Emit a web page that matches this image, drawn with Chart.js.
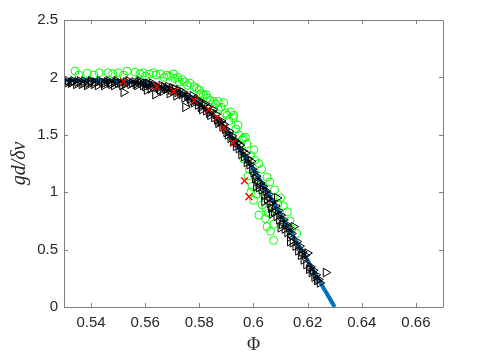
<!DOCTYPE html>
<html>
<head>
<meta charset="utf-8">
<script src="https://cdn.jsdelivr.net/npm/chart.js@4"></script>
<style>
  html, body { margin: 0; padding: 0; background: #fff; }
  #wrap { width: 479px; height: 360px; }
</style>
</head>
<body>
<div id="wrap"><canvas id="plot" width="479" height="360"></canvas></div>
<script>
// fitted curve
var phiLine = [0.530, 0.540, 0.550, 0.555, 0.560, 0.565, 0.570, 0.575, 0.580, 0.585, 0.590, 0.595, 0.600, 0.605, 0.610, 0.615, 0.620, 0.625, 0.630];
var gLine = [1.975, 1.975, 1.968, 1.958, 1.943, 1.92, 1.885, 1.835, 1.77, 1.675, 1.54, 1.375, 1.20, 1.005, 0.805, 0.605, 0.405, 0.20, 0.00];

// green circles
var phiCirc = [0.5341, 0.5386, 0.5430, 0.5463, 0.5500, 0.5533, 0.5563, 0.5593, 0.5615, 0.5630, 0.5656, 0.5680, 0.5704, 0.5720, 0.5737, 0.5745, 0.5756, 0.5780, 0.5790, 0.5804,
  0.5815, 0.5830, 0.5852, 0.5870, 0.5870, 0.5890, 0.5896, 0.5902, 0.5915, 0.5926, 0.5926, 0.5943, 0.5946, 0.5958, 0.5963, 0.5970, 0.6001, 0.5964, 0.6020, 0.5985,
  0.5995, 0.6000, 0.5990, 0.6010, 0.6032, 0.6040, 0.6044, 0.6055, 0.6060, 0.6063, 0.6074, 0.6074, 0.6090, 0.6125, 0.6140,
  0.5355, 0.5410, 0.5480, 0.5520, 0.5580, 0.5600, 0.5640, 0.5670, 0.5690, 0.5710, 0.5725, 0.5765, 0.5800, 0.5825, 0.5840, 0.5860, 0.5880, 0.5910, 0.5935, 0.5975,
  0.5990, 0.6005, 0.6030, 0.6050, 0.6078, 0.6100, 0.6110, 0.6135, 0.6160, 0.6020, 0.6050, 0.6010, 0.5980, 0.6045];
var gCirc = [2.055, 2.035, 2.040, 2.040, 2.040, 2.055, 2.045, 2.040, 2.030, 2.040, 2.030, 2.020, 2.030, 2.000, 1.980, 1.960, 1.930, 1.920, 1.905, 1.860,
  1.850, 1.820, 1.790, 1.790, 1.720, 1.780, 1.690, 1.670, 1.700, 1.650, 1.670, 1.585, 1.500, 1.455, 1.470, 1.480, 1.370, 1.290, 1.250, 1.200,
  1.050, 0.930, 1.000, 1.120, 0.890, 0.980, 0.770, 0.820, 1.090, 0.660, 0.580, 0.720, 0.900, 0.830, 0.680,
  2.020, 2.020, 2.030, 2.020, 2.030, 2.010, 2.020, 2.000, 2.010, 1.990, 1.960, 1.950, 1.890, 1.850, 1.800, 1.770, 1.740, 1.620, 1.550, 1.420,
  1.320, 1.280, 1.200, 1.130, 1.020, 0.950, 0.880, 0.750, 0.640, 0.800, 0.700, 0.980, 1.140, 0.860];

// black triangles
var phiTri = [0.5305, 0.5315, 0.5325, 0.5335, 0.5350, 0.5365, 0.5375, 0.5390, 0.5400, 0.5415, 0.5425, 0.5440, 0.5450, 0.5465, 0.5475, 0.5490, 0.5500, 0.5515, 0.5520, 0.5530,
  0.5545, 0.5560, 0.5570, 0.5580, 0.5585, 0.5600, 0.5606, 0.5610, 0.5620, 0.5630, 0.5637, 0.5650, 0.5665, 0.5670, 0.5680, 0.5690, 0.5700, 0.5705, 0.5715, 0.5730,
  0.5745, 0.5748, 0.5760, 0.5770, 0.5785, 0.5790, 0.5795, 0.5805, 0.5815, 0.5820, 0.5825, 0.5835, 0.5845, 0.5850, 0.5855, 0.5865, 0.5875, 0.5880, 0.5885, 0.5895,
  0.5905, 0.5910, 0.5915, 0.5925, 0.5935, 0.5940, 0.5945, 0.5955, 0.5960, 0.5965, 0.5975, 0.5980, 0.5985, 0.5995, 0.6000, 0.6005, 0.6015, 0.6020, 0.6025, 0.6030,
  0.6040, 0.6045, 0.6050, 0.6060, 0.6065, 0.6070, 0.6075, 0.6085, 0.6087, 0.6090, 0.6095, 0.6105, 0.6110, 0.6115, 0.6125, 0.6130, 0.6135, 0.6145, 0.6148, 0.6155,
  0.6160, 0.6165, 0.6175, 0.6180, 0.6185, 0.6195, 0.6199, 0.6205, 0.6210, 0.6215, 0.6225, 0.6230, 0.6235, 0.6245, 0.6267,
  0.5310, 0.5330, 0.5345, 0.5358, 0.5372, 0.5385, 0.5398, 0.5410, 0.5432, 0.5448, 0.5458, 0.5470, 0.5485, 0.5495, 0.5508, 0.5525, 0.5538, 0.5552, 0.5565, 0.5575,
  0.5592, 0.5603, 0.5615, 0.5625, 0.5645, 0.5655, 0.5660, 0.5675, 0.5685, 0.5695, 0.5710, 0.5720, 0.5725, 0.5735, 0.5740, 0.5755, 0.5765, 0.5775, 0.5780, 0.5800,
  0.5810, 0.5830, 0.5840, 0.5860, 0.5870, 0.5890, 0.5900, 0.5920, 0.5930, 0.5950, 0.5970, 0.5990, 0.6010, 0.6035, 0.6055, 0.6080, 0.6100, 0.6120, 0.6140, 0.6170,
  0.6190, 0.6220, 0.6240, 0.6010, 0.6040, 0.6068, 0.6100, 0.6135];
var gTri = [1.96, 1.97, 1.95, 1.97, 1.96, 1.94, 1.97, 1.95, 1.97, 1.96, 1.93, 1.96, 1.95, 1.97, 1.94, 1.96, 1.95, 1.93, 1.87, 1.96,
  1.94, 1.96, 1.93, 1.97, 1.95, 1.92, 1.89, 1.95, 1.90, 1.93, 1.85, 1.91, 1.88, 1.92, 1.90, 1.86, 1.91, 1.88, 1.84, 1.86,
  1.82, 1.74, 1.83, 1.79, 1.80, 1.81, 1.76, 1.74, 1.76, 1.77, 1.71, 1.69, 1.70, 1.72, 1.65, 1.63, 1.61, 1.62, 1.57, 1.55,
  1.50, 1.53, 1.47, 1.44, 1.40, 1.43, 1.38, 1.33, 1.36, 1.31, 1.26, 1.29, 1.24, 1.20, 1.17, 1.12, 1.09, 1.04, 1.08, 1.02,
  0.97, 1.01, 0.94, 0.90, 0.86, 0.92, 0.83, 0.79, 0.95, 0.84, 0.76, 0.72, 0.76, 0.68, 0.65, 0.69, 0.61, 0.56, 0.70, 0.53,
  0.57, 0.49, 0.45, 0.48, 0.41, 0.37, 0.47, 0.33, 0.35, 0.30, 0.26, 0.28, 0.23, 0.21, 0.30,
  1.95, 1.96, 1.94, 1.97, 1.95, 1.93, 1.96, 1.94, 1.97, 1.93, 1.96, 1.95, 1.93, 1.97, 1.95, 1.94, 1.97, 1.95, 1.94, 1.96,
  1.93, 1.95, 1.93, 1.95, 1.92, 1.89, 1.93, 1.90, 1.92, 1.89, 1.90, 1.87, 1.89, 1.85, 1.87, 1.84, 1.81, 1.84, 1.78, 1.79,
  1.72, 1.74, 1.67, 1.68, 1.60, 1.59, 1.52, 1.49, 1.45, 1.41, 1.34, 1.27, 1.14, 1.05, 0.98, 0.88, 0.80, 0.72, 0.64, 0.53,
  0.45, 0.32, 0.24, 1.05, 0.92, 0.81, 0.69, 0.57];

// red crosses
var phiCross = [0.5520, 0.5643, 0.5705, 0.5781, 0.5835, 0.5865, 0.5890, 0.5925, 0.5967, 0.5983];
var gCross = [1.965, 1.920, 1.880, 1.800, 1.720, 1.650, 1.560, 1.430, 1.100, 0.960];

var xTicks = [0.54, 0.56, 0.58, 0.6, 0.62, 0.64, 0.66];
var yTicks = [0, 0.5, 1, 1.5, 2, 2.5];

function pts(xs, ys) {
  return xs.map(function (x, i) { return {x: x, y: ys[i]}; });
}

var axisColor = "#808080";

var boxPlugin = {
  id: "box",
  afterDraw: function (chart) {
    var ctx = chart.ctx, a = chart.chartArea;
    var sx = chart.scales.x, sy = chart.scales.y;
    ctx.save();
    ctx.strokeStyle = axisColor;
    ctx.lineWidth = 1;
    ctx.beginPath();
    ctx.rect(Math.round(a.left) + 0.5, Math.round(a.top) + 0.5, Math.round(a.right - a.left), Math.round(a.bottom - a.top));
    xTicks.forEach(function (t) {
      var px = Math.round(sx.getPixelForValue(t)) + 0.5;
      ctx.moveTo(px, a.bottom); ctx.lineTo(px, a.bottom - 4);
      ctx.moveTo(px, a.top); ctx.lineTo(px, a.top + 4);
    });
    yTicks.forEach(function (t) {
      var py = Math.round(sy.getPixelForValue(t)) + 0.5;
      ctx.moveTo(a.left, py); ctx.lineTo(a.left + 4, py);
      ctx.moveTo(a.right, py); ctx.lineTo(a.right - 4, py);
    });
    ctx.stroke();
    ctx.restore();
  }
};

// higher "order" is drawn first (underneath)
new Chart("plot", {
  type: "scatter",
  data: {
    datasets: [
      {
        label: "circles",
        order: 4,
        data: pts(phiCirc, gCirc),
        pointStyle: "circle",
        pointRadius: 4,
        borderColor: "#00ff00",
        backgroundColor: "rgba(0,0,0,0)",
        borderWidth: 1
      },
      {
        label: "fit",
        type: "line",
        order: 3,
        data: pts(phiLine, gLine),
        borderColor: "#0072bd",
        borderWidth: 4,
        pointRadius: 0,
        fill: false,
        cubicInterpolationMode: "monotone"
      },
      {
        label: "triangles",
        order: 2,
        data: pts(phiTri, gTri),
        pointStyle: "triangle",
        rotation: 90,
        pointRadius: 5,
        borderColor: "#000000",
        backgroundColor: "rgba(0,0,0,0)",
        borderWidth: 1
      },
      {
        label: "crosses",
        order: 1,
        data: pts(phiCross, gCross),
        pointStyle: "crossRot",
        pointRadius: 5,
        borderColor: "#ff0000",
        borderWidth: 1.3
      }
    ]
  },
  options: {
    responsive: false,
    animation: false,
    events: [],
    layout: {padding: {left: 0, top: 20, right: 36, bottom: 0}},
    plugins: {legend: {display: false}, tooltip: {enabled: false}},
    scales: {
      x: {
        type: "linear",
        min: 0.53,
        max: 0.67,
        afterBuildTicks: function (s) { s.ticks = xTicks.map(function (v) { return {value: v}; }); },
        afterFit: function (s) { s.height = 53; },
        grid: {display: false, drawTicks: false},
        border: {display: false},
        ticks: {
          padding: 7,
          color: "#262626",
          font: {family: "Liberation Sans", size: 15},
          callback: function (v) { return String(v); }
        },
        title: {
          display: true,
          text: "Φ",
          color: "#262626",
          padding: {top: 0, bottom: 4},
          font: {family: "Liberation Serif", size: 18}
        }
      },
      y: {
        type: "linear",
        min: 0,
        max: 2.5,
        afterBuildTicks: function (s) { s.ticks = yTicks.map(function (v) { return {value: v}; }); },
        afterFit: function (s) { s.width = 64; },
        grid: {display: false, drawTicks: false},
        border: {display: false},
        ticks: {
          padding: 6,
          color: "#262626",
          font: {family: "Liberation Sans", size: 15},
          callback: function (v) { return String(v); }
        },
        title: {
          display: true,
          text: "gd/δv",
          color: "#262626",
          padding: {top: 8, bottom: 0},
          font: {family: "Liberation Serif", size: 20, style: "italic"}
        }
      }
    }
  },
  plugins: [boxPlugin]
});
</script>
</body>
</html>
